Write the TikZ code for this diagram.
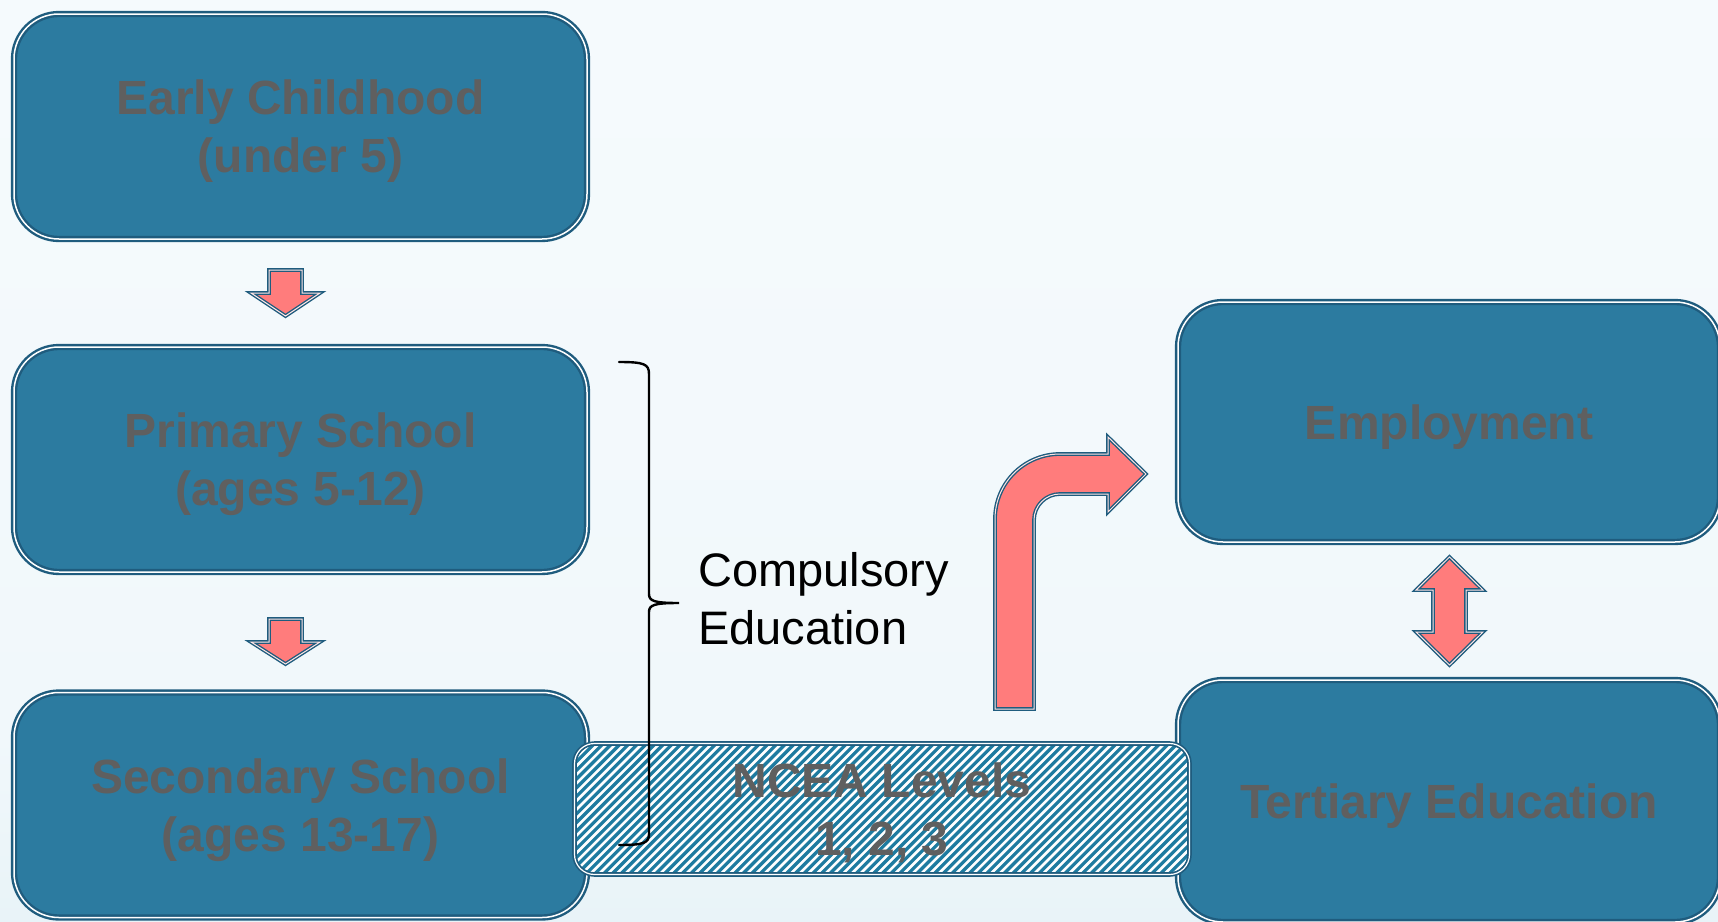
\documentclass[tikz,border=0pt]{standalone}
\usepackage{fontspec}
\setmainfont{Liberation Sans}
\usetikzlibrary{calc}
\definecolor{boxFill}{HTML}{2C7BA0}
\definecolor{boxLine}{HTML}{1F5C7E}
\definecolor{textGray}{HTML}{5F5F5F}
\definecolor{arrowFill}{HTML}{FF7C7C}
\definecolor{arrowLight}{HTML}{FFE4E4}
\definecolor{stripeCol}{HTML}{1E7BA0}
\definecolor{bgTop}{HTML}{F8FCFE}
\definecolor{bgMid}{HTML}{F1F8FB}
\definecolor{bgBot}{HTML}{D3E7EF}
\pgfdeclareverticalshading{bgshade}{100bp}{color(0bp)=(bgBot); color(35bp)=(bgMid); color(100bp)=(bgTop)}
\begin{document}
\begin{tikzpicture}[x=1pt,y=-1pt,
  box/.style={draw=boxLine, line width=2.4pt, double=white, double distance=1.5pt,
    fill=boxFill, rounded corners=45pt, text=textGray,
    font=\bfseries\fontsize{48}{58}\selectfont, align=center, inner sep=0pt},
  twoline/.style={text height=92pt, text depth=0pt},
  oneline/.style={text height=34pt, text depth=0pt},
  leftbox/.style={box, minimum width=573pt, minimum height=225pt},
  rightbox/.style={box, minimum width=542pt},
  ncea/.style={box, fill=white, rounded corners=20pt, line width=1.7pt,
    double distance=1.2pt, minimum width=615pt, minimum height=131pt,
    path picture={
      \foreach \k in {0,...,92}
        \fill[stripeCol, sharp corners]
          ($(path picture bounding box.south west)+(\k*8.7-150,2)$)
          -- ++(4.6,0) -- ++(142,-142) -- ++(-4.6,0) -- cycle;
    }},
  blockarrow/.style={draw=boxLine, line width=1.4pt, double=arrowLight,
    double distance=1pt, fill=arrowFill, line join=miter},
  bracket/.style={draw=black, line width=2.4pt, line cap=round}
]
\useasboundingbox (0,0) rectangle (1718,921);
\fill[shading=bgshade] (0,0) rectangle (1718,921);

% the school stages on the left
\node[leftbox, twoline] (early) at (300.5,126.5) {Early Childhood\\(under 5)};
\node[leftbox, twoline] (primary) at (300.5,459.5) {Primary School\\(ages 5-12)};
\node[leftbox, twoline] (secondary) at (300.5,805) {Secondary School\\(ages 13-17)};

% what follows school
\node[rightbox, oneline, minimum height=240pt] (employment) at (1449,422) {Employment};
\node[rightbox, oneline, minimum height=242pt] (tertiary) at (1449,801) {Tertiary Education};

% the qualification band
\node[ncea, twoline] (levels) at (882,809) {NCEA Levels\\1, 2, 3};

% brace over the compulsory years
\draw[bracket] (619,362) .. controls (644,362) and (649,364) .. (649,374)
  -- (649,594) .. controls (649,601) and (654,603) .. (679,603)
  .. controls (654,603) and (649,605) .. (649,612)
  -- (649,834) .. controls (649,843) and (644,845) .. (619,845);
\node[anchor=west, align=left, inner sep=0pt, text height=92pt, text depth=0pt,
  font=\fontsize{47}{58}\selectfont] (compulsory) at (698,598) {Compulsory\\Education};

% block arrows
\draw[blockarrow] (269,270) -- (302,270) -- (302,293) -- (320,293) -- (285.5,316)
  -- (251,293) -- (269,293) -- cycle;
\draw[blockarrow] (269,619) -- (302,619) -- (302,642) -- (320,642) -- (285.5,664)
  -- (251,642) -- (269,642) -- cycle;
\draw[blockarrow] (1449.5,557) -- (1483,590) -- (1466,590) -- (1466,632) -- (1483,632)
  -- (1449.5,665) -- (1416,632) -- (1433,632) -- (1433,590) -- (1416,590) -- cycle;
\draw[blockarrow] (995,709) -- (995,519) arc[start angle=180, end angle=90, radius=65pt]
  -- (1108,454) -- (1108,437) -- (1146,474) -- (1108,512) -- (1108,494) -- (1060,494)
  arc[start angle=90, end angle=180, radius=26pt] -- (1034,709) -- cycle;
\end{tikzpicture}
\end{document}
